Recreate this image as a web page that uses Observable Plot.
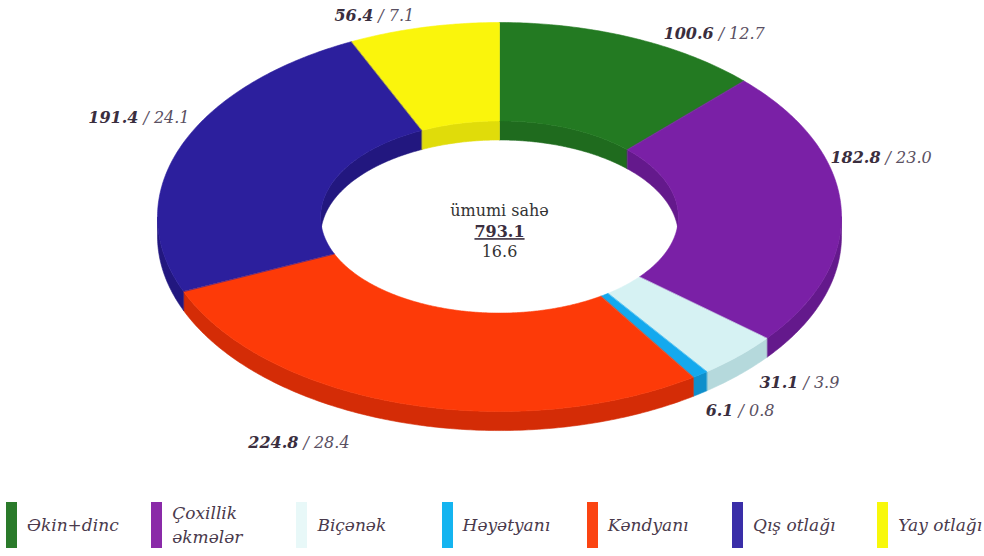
<!DOCTYPE html>
<html><head><meta charset="utf-8">
<script src="https://cdn.jsdelivr.net/npm/d3@7"></script>
<script src="https://cdn.jsdelivr.net/npm/@observablehq/plot@0.6"></script>
<style>
body{margin:0;background:#fff;width:984px;height:556px;overflow:hidden;font-family:"DejaVu Serif","Liberation Serif",serif;}
#legend{position:relative;height:66px;width:984px;}
.item{position:absolute;top:12px;height:46px;display:flex;align-items:center;}
.sw{width:11px;height:46px;margin-right:10px;flex:none;}
.lt{font-style:italic;font-size:17px;color:#4a3a4c;line-height:24px;}
</style></head><body>
<div id="chart"></div><div id="legend"></div>
<script>
// ---- data ----
const categories = ["Əkin+dinc", "Çoxillik əkmələr", "Biçənək", "Həyətyanı", "Kəndyanı", "Qış otlağı", "Yay otlağı"];
const areas = [100.6, 182.8, 31.1, 6.1, 224.8, 191.4, 56.4];
const shares = [12.7, 23.0, 3.9, 0.8, 28.4, 24.1, 7.1];
const totalLabel = "ümumi sahə";
const totalArea = 793.1;
const totalShare = 16.6;

// ---- styles / placement ----
const FONT = "'DejaVu Serif', 'Liberation Serif', serif";
const colors = ["#237a22", "#7a20a6", "#d6f2f3", "#14a9ee", "#fd3a08", "#2c1f9d", "#faf50c"];
const sideColors = ["#1f6b1e", "#64198c", "#b5d9dc", "#0f8fcb", "#d42c06", "#22177f", "#e0dc0a"];
const legendColors = ["#2a7a2a", "#8a2aa8", "#e8f8f8", "#14b4f0", "#fb4412", "#3a2ea8", "#f8f80a"];
const labelX = [0.632, 1.120, 0.880, 0.690, -0.582, -1.050, -0.363];
const labelY = [0.943, 0.306, -0.851, -0.995, -1.159, 0.512, 1.036];
const innerKx = 0.523, innerKy = 0.494, depth = 0.098;

// ---- geometry from values ----
const sum = d3.sum(areas);
let acc = 0;
const slices = areas.map((v, i) => {
  const a0 = acc / sum * 2 * Math.PI; acc += v;
  return {i, a0, a1: acc / sum * 2 * Math.PI};
});
function arc(a0, a1, sx, sy, dy) {
  const n = Math.max(2, Math.ceil((a1 - a0) / 0.01));
  return d3.range(n + 1).map(k => {
    const a = a0 + (a1 - a0) * k / n;
    return {x: sx * Math.sin(a), y: sy * Math.cos(a) + dy};
  });
}
function band(lo, hi, sx, sy) {
  return arc(lo, hi, sx, sy, 0).concat(arc(lo, hi, sx, sy, -depth).reverse());
}
const H = Math.PI / 2;
const marks = [];
slices.forEach(s => {
  [[0, H], [3 * H, 4 * H]].forEach(([l, h]) => {
    const lo = Math.max(s.a0, l), hi = Math.min(s.a1, h);
    if (lo < hi) marks.push(Plot.line(band(lo, hi, innerKx, innerKy), {x: "x", y: "y", fill: sideColors[s.i], stroke: sideColors[s.i], strokeWidth: 0.6, curve: "linear-closed"}));
  });
});
slices.forEach(s => {
  const lo = Math.max(s.a0, H), hi = Math.min(s.a1, 3 * H);
  if (lo < hi) marks.push(Plot.line(band(lo, hi, 1, 1), {x: "x", y: "y", fill: sideColors[s.i], stroke: sideColors[s.i], strokeWidth: 0.6, curve: "linear-closed"}));
});
slices.forEach(s => {
  const poly = arc(s.a0, s.a1, 1, 1, 0).concat(arc(s.a0, s.a1, innerKx, innerKy, 0).reverse());
  marks.push(Plot.line(poly, {x: "x", y: "y", fill: colors[s.i], stroke: colors[s.i], strokeWidth: 0.6, curve: "linear-closed"}));
});
const idx = d3.range(areas.length);
marks.push(Plot.text(idx, {x: i => labelX[i], y: i => labelY[i], text: i => areas[i].toFixed(1), textAnchor: "end", dx: -2, fontWeight: "bold", fontStyle: "italic", fontSize: 16, fill: "#3a2e3e"}));
marks.push(Plot.text(idx, {x: i => labelX[i], y: i => labelY[i], text: i => "/ " + shares[i].toFixed(1), textAnchor: "start", dx: 3, fontStyle: "italic", fontSize: 16, fill: "#5a5062"}));
marks.push(Plot.text([0], {x: 0, y: 0, text: () => totalLabel, dy: -6, fontSize: 16, fill: "#333"}));
marks.push(Plot.text([0], {x: 0, y: 0, text: () => totalArea.toFixed(1), dy: 15, fontSize: 16, fontWeight: "bold", fill: "#3a2e3e"}));
marks.push(Plot.text([0], {x: 0, y: 0, text: () => totalShare.toFixed(1), dy: 35, fontSize: 16, fill: "#333"}));

const plot = Plot.plot({
  width: 984, height: 490,
  marginLeft: 157, marginRight: 143, marginTop: 22, marginBottom: 79,
  x: {domain: [-1, 1], axis: null},
  y: {domain: [-1, 1], axis: null},
  style: {fontFamily: FONT, background: "#fff", overflow: "visible"},
  marks
});
d3.select(plot).selectAll("text").style("font-family", FONT);
d3.select(plot).selectAll("text").filter(function () { return this.textContent === totalArea.toFixed(1); })
  .style("text-decoration", "underline");
document.getElementById("chart").appendChild(plot);

const legend = d3.select("#legend");
categories.forEach((c, i) => {
  const it = legend.append("div").attr("class", "item").style("left", (6 + i * 145.2) + "px");
  it.append("div").attr("class", "sw").style("background", legendColors[i]);
  const words = c.split(" ");
  const lt = it.append("div").attr("class", "lt");
  if (i === 1) { lt.html(words[0] + "<br>" + words[1]); }
  else lt.text(c);
});
</script>
</body></html>
